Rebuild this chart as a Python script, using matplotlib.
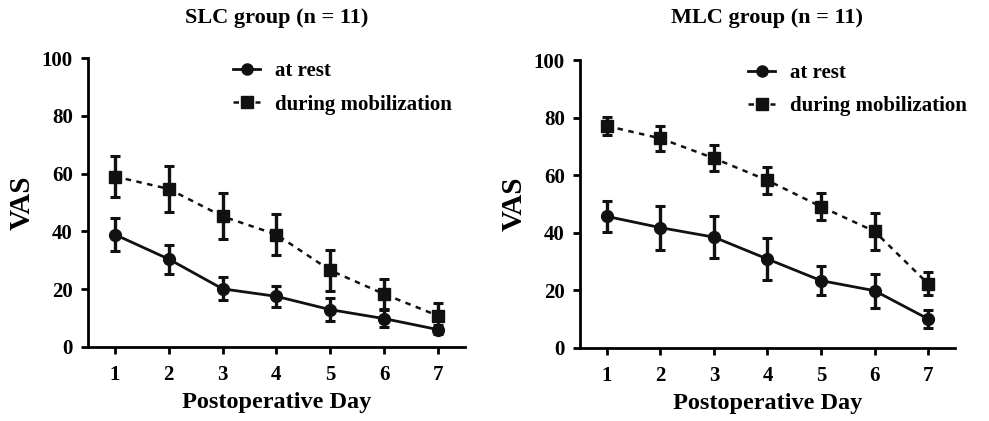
import matplotlib
matplotlib.use("Agg")
import matplotlib.pyplot as plt
from matplotlib.lines import Line2D

days = [1, 2, 3, 4, 5, 6, 7]
titles = ["SLC group (n = 11)", "MLC group (n = 11)"]

slc_rest = [38.9, 30.4, 20.1, 17.5, 12.9, 9.8, 6.0]
slc_rest_err = [5.6, 5.0, 4.0, 3.7, 4.0, 3.0, 1.5]
slc_mob = [59.0, 54.7, 45.2, 38.9, 26.5, 18.3, 10.8]
slc_mob_err = [7.2, 8.0, 8.0, 7.0, 7.0, 5.2, 4.4]

mlc_rest = [45.7, 41.8, 38.5, 30.9, 23.4, 19.9, 10.1]
mlc_rest_err = [5.4, 7.6, 7.2, 7.3, 5.0, 5.9, 3.0]
mlc_mob = [77.1, 72.8, 65.9, 58.2, 49.1, 40.5, 22.3]
mlc_mob_err = [3.0, 4.3, 4.6, 4.8, 4.6, 6.4, 4.0]

labels = ["at rest", "during mobilization"]

plt.rcParams['font.family'] = ['Liberation Serif', 'DejaVu Serif']
plt.rcParams['font.weight'] = 'bold'

col = '#111111'
dash = (0, (2.2, 2.2))

fig = plt.figure(figsize=(9.89, 4.21), dpi=100)
positions = [[0.089, 0.176, 0.381, 0.686], [0.5865, 0.1734, 0.379, 0.684]]
data = [(slc_rest, slc_rest_err, slc_mob, slc_mob_err),
        (mlc_rest, mlc_rest_err, mlc_mob, mlc_mob_err)]
leg_anchor = [(0.385, 0.99), (0.448, 0.99)]

for i in range(2):
    ax = fig.add_axes(positions[i])
    rest, rest_err, mob, mob_err = data[i]
    ax.errorbar(days, rest, yerr=rest_err, color=col, lw=2.0, ls='-',
                marker='o', ms=8.5, capsize=3.3, capthick=2.2, elinewidth=2.4, zorder=2)
    ax.errorbar(days, mob, yerr=mob_err, color=col, lw=1.8, ls=dash,
                marker='s', ms=8.5, capsize=3.3, capthick=2.2, elinewidth=2.4, zorder=3)
    ax.set_xlim(0.5, 7.5)
    ax.set_ylim(0, 100)
    ax.set_xticks(days)
    ax.set_yticks([0, 20, 40, 60, 80, 100])
    for s in ['top', 'right']:
        ax.spines[s].set_visible(False)
    for s in ['left', 'bottom']:
        ax.spines[s].set_linewidth(2.0)
    ax.tick_params(axis='both', direction='out', length=5, width=2.0, labelsize=15)
    ax.tick_params(axis='x', pad=8)
    ax.tick_params(axis='y', pad=6)
    for lab in ax.get_xticklabels() + ax.get_yticklabels():
        lab.set_fontweight('bold')
    ax.set_xlabel("Postoperative Day", fontsize=17.5, fontweight='bold', labelpad=5)
    ax.set_ylabel("VAS", fontsize=21, fontweight='bold', labelpad=4)
    fig.text((positions[i][0] + positions[i][2] / 2), 0.957, titles[i], ha='center', va='center',
             fontsize=16, fontweight='bold')
    handles = [Line2D([], [], color=col, lw=2.0, ls='-', marker='o', ms=8),
               Line2D([], [], color=col, lw=1.8, ls=dash, marker='s', ms=8)]
    ax.legend(handles, labels, loc='upper left', bbox_to_anchor=leg_anchor[i],
              frameon=False, handlelength=1.3, handletextpad=0.7, borderpad=0, borderaxespad=0,
              labelspacing=0.65, prop={'weight': 'bold', 'size': 15})

fig.savefig("out.png", dpi=100)
